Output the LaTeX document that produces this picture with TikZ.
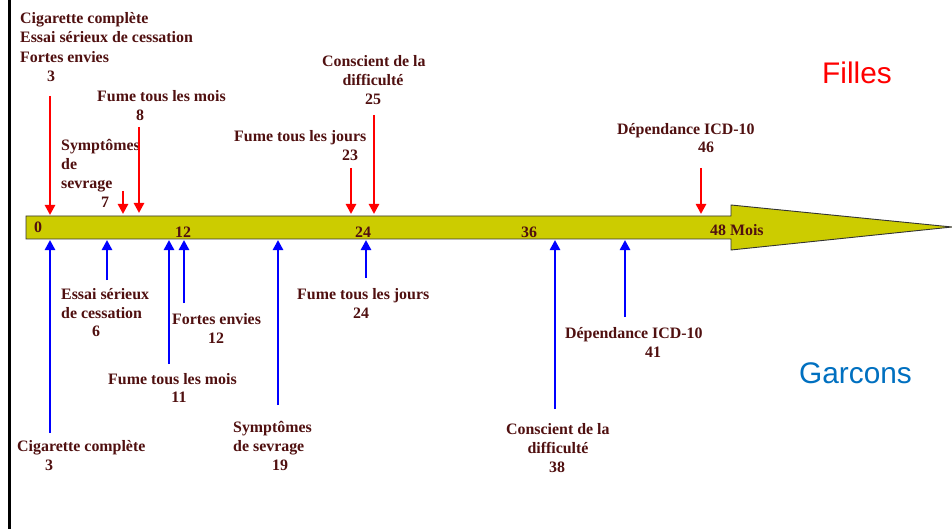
\documentclass[tikz,border=0pt]{standalone}
\usepackage{fontspec}
\setmainfont{Liberation Serif}
\newfontfamily\sansf{Liberation Sans}
\usetikzlibrary{arrows.meta}
\definecolor{txt}{RGB}{80,16,16}
\definecolor{barfill}{RGB}{204,204,0}
\definecolor{girlred}{RGB}{255,0,0}
\definecolor{boyblue}{RGB}{0,112,192}
\definecolor{arrblue}{RGB}{0,0,255}
\begin{document}
\begin{tikzpicture}[x=1pt,y=-1pt,
  lbl/.style={font=\fontsize{15.9}{19}\selectfont\bfseries, text=txt, inner sep=0pt, anchor=base west},
  num/.style={font=\fontsize{15.9}{19}\selectfont\bfseries, text=txt, inner sep=0pt, anchor=base},
  redarr/.style={draw=girlred, line width=2.8pt, -{Triangle[width=10pt,length=10pt]}},
  bluearr/.style={draw=arrblue, line width=2.8pt, -{Triangle[width=10pt,length=10pt]}},
  big/.style={font=\sansf\fontsize{29.8}{32}\selectfont, inner sep=0pt, anchor=base west}]
\useasboundingbox (0,0) rectangle (952,529);
\fill[white] (0,0) rectangle (952,529);
% left border
\draw[line width=3pt] (9,0) -- (9,529);
% timeline arrow
\draw[fill=barfill, draw=black!80, line width=0.9pt]
  (26,216) -- (731,216) -- (731,205) -- (952,227) -- (731,250) -- (731,239) -- (26,239) -- cycle;
\node[lbl, anchor=base] (t0) at (38,233) {0};
\node[num] (t12) at (183,237) {12};
\node[num] (t24) at (363,237) {24};
\node[num] (t36) at (529,237) {36};
\node[lbl] (t48) at (710,236) {48 Mois};
% titles
\node[big, text=girlred] (filles) at (822,84) {Filles};
\node[big, text=boyblue] (garcons) at (799,383) {Garcons};
% ---------- girls (top) ----------
\node[lbl] (g1a) at (20,24) {Cigarette complète};
\node[lbl] (g1b) at (20,43) {Essai sérieux de cessation};
\node[lbl] (g1c) at (20,63) {Fortes envies};
\node[num] (g1n) at (51,82) {3};
\node[lbl] (g2a) at (97,102) {Fume tous les mois};
\node[num] (g2n) at (140,121) {8};
\node[lbl] (g3a) at (61,151) {Symptômes};
\node[lbl] (g3b) at (61,170) {de};
\node[lbl] (g3c) at (61,189) {sevrage};
\node[num] (g3n) at (105,208) {7};
\node[lbl] (g4a) at (234,142) {Fume tous les jours};
\node[num] (g4n) at (350,161) {23};
\node[lbl] (g5a) at (322,67) {Conscient de la};
\node[num] (g5b) at (373,86) {difficulté};
\node[num] (g5n) at (373,105) {25};
\node[lbl] (g6a) at (617,135) {Dépendance ICD-10};
\node[num] (g6n) at (706,153) {46};
% girls arrows
\coordinate (ga1s) at (50,96);  \coordinate (ga1e) at (50,215);
\coordinate (ga2s) at (123,191); \coordinate (ga2e) at (123,214);
\coordinate (ga3s) at (139,127); \coordinate (ga3e) at (139,213);
\coordinate (ga4s) at (351,168); \coordinate (ga4e) at (351,214);
\coordinate (ga5s) at (374,115); \coordinate (ga5e) at (374,214);
\coordinate (ga6s) at (701,168); \coordinate (ga6e) at (701,214);
\foreach \i in {1,...,6} {\draw[redarr] (ga\i s) -- (ga\i e);}
% ---------- boys (bottom) ----------
\node[lbl] (b1a) at (61,299) {Essai sérieux};
\node[lbl] (b1b) at (61,318) {de cessation};
\node[num] (b1n) at (96,336) {6};
\node[lbl] (b2a) at (172,324) {Fortes envies};
\node[num] (b2n) at (216,343) {12};
\node[lbl] (b3a) at (108,384) {Fume tous les mois};
\node[num] (b3n) at (179,402) {11};
\node[lbl] (b4a) at (17,451) {Cigarette complète};
\node[num] (b4n) at (49,470) {3};
\node[lbl] (b5a) at (233,432) {Symptômes};
\node[lbl] (b5b) at (233,451) {de sevrage};
\node[num] (b5n) at (280,470) {19};
\node[lbl] (b6a) at (297,299) {Fume tous les jours};
\node[num] (b6n) at (361,318) {24};
\node[lbl] (b7a) at (565,338) {Dépendance ICD-10};
\node[num] (b7n) at (653,357) {41};
\node[lbl] (b8a) at (506,434) {Conscient de la};
\node[num] (b8b) at (558,453) {difficulté};
\node[num] (b8n) at (557,472) {38};
% boys arrows
\coordinate (ba1s) at (50,433);  \coordinate (ba1e) at (50,240);
\coordinate (ba2s) at (107,280); \coordinate (ba2e) at (107,240);
\coordinate (ba3s) at (169,364); \coordinate (ba3e) at (169,240);
\coordinate (ba4s) at (184,303); \coordinate (ba4e) at (184,240);
\coordinate (ba5s) at (278,405); \coordinate (ba5e) at (278,240);
\coordinate (ba6s) at (366,278); \coordinate (ba6e) at (366,240);
\coordinate (ba7s) at (555,409); \coordinate (ba7e) at (555,240);
\coordinate (ba8s) at (625,317); \coordinate (ba8e) at (625,240);
\foreach \i in {1,...,8} {\draw[bluearr] (ba\i s) -- (ba\i e);}
\end{tikzpicture}
\end{document}
